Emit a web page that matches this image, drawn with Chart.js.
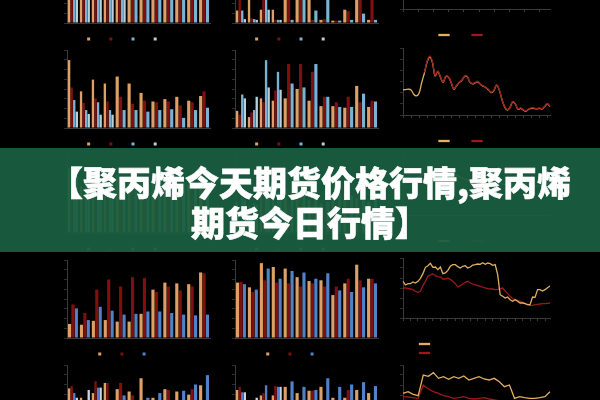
<!DOCTYPE html>
<html>
<head>
<meta charset="utf-8">
<script src="https://cdn.jsdelivr.net/npm/chart.js@4.4.1/dist/chart.umd.min.js"></script>
<style>
  html, body { margin: 0; padding: 0; background: #000; }
  #wrap { position: relative; width: 600px; height: 400px; overflow: hidden; background: #000; }
  #wrap canvas { position: absolute; }
  #banner {
    position: absolute; left: 0; top: 148px; width: 600px; height: 104px; z-index: 5;
    background: rgba(26, 94, 64, 0.94);
  }
  #banner h1 {
    margin: 0; padding: 14px 0 0 20px; color: #fff; text-align: center;
    font: 900 34px/40px "Noto Sans CJK SC", "Noto Sans", sans-serif;
    -webkit-text-stroke: 0.6px #fff;
  }
</style>
</head>
<body>
<div id="wrap">
  <div id="banner"><h1>【聚丙烯今天期货价格行情,聚丙烯<br>期货今日行情】</h1></div>
</div>
<script>
// Categorías (12 grupos por gráfico de barras)
const months = ['1月', '2月', '3月', '4月', '5月', '6月', '7月', '8月', '9月', '10月', '11月', '12月']
const seriesNames = ['系列1', '系列2', '系列3', '系列4']
const lineNames = ['系列1', '系列2']

// Fila superior (cortada)
const topAOrange = [82, 78, 86, 74, 88, 80, 76, 84, 79, 87, 75, 83]
const topARed = [70, 74, 68, 77, 72, 69, 75, 71, 73, 68, 76, 70]
const topABlue = [66, 72, 64, 70, 67, 71, 65, 69, 68, 72, 66, 70]
const topAGrey = [74, 70, 76, 68, 72, null, null, null, null, null, null, null]
const topBOrange = [16, 75, 17, 17, 75, 75, 75, 4, 3, 17, 75, 4]
const topBRed = [70, 6, 70, 4, 75, 75, 4, 5, 3, 15, 75, 75]
const topBBlue = [16, 5, 70, 4, 4, 75, 16, 75, 3, 4, 12, 4]
const topBGrey = [5, 4, 17, 4, null, null, null, null, null, null, null, null]
const topCOrange = [120, 125, 118, 130, 140, 135, 128, 132, 138, 145, 150, 142, 136, 130, 128, 134, 140, 138, 132, 126, 120, 124, 130, 128, 122, 118, 115, 120, 125, 122]
const topCRed = [110, 112, 115, 118, 125, 130, 126, 122, 128, 132, 136, 130, 125, 120, 118, 122, 126, 124, 120, 115, 110, 112, 116, 114, 110, 106, 104, 108, 112, 110]

// Fila 1
const r1AOrange = [87, 47, 62, 57, 66, 57, 45, 34, 37, 40, 35, 41]
const r1ARed = [52, 32, 38, 34, 40, 31, 35, 33, 34, 29, 33, 47]
const r1ABlue = [36, 23, 33, 23, 23, 23, 21, 23, 24, 13, 23, 26]
const r1AGrey = [21, 18, 17, 17, null, null, null, null, null, null, null, null]
const r1BOrange = [22, 14, 38, 35, 38, 50, 35, 28, 28, 26, 54, 27]
const r1BRed = [17, 20, 33, 48, 82, 82, 72, 40, 33, 40, 33, 35]
const r1BBlue = [43, 23, 87, 72, 57, 52, 82, 40, 27, 27, 44, 34]
const r1BGrey = [38, 40, 52, 49, null, null, null, null, null, null, null, null]
const r1COrange = [75, 76, 77, 75, 62, 57, 65, 97, 125, 157, 173, 157, 117, 130, 113, 97, 115, 113, 97, 77, 87, 97, 103, 115, 115, 98, 93, 96, 99, 91, 86, 82, 75, 67, 73, 89, 75, 47, 25, 15, 22, 39, 33, 17, 20, 15, 11, 17, 20, 20, 18, 20, 18, 25, 33, 25]
const r1CRed = [null, null, null, null, null, null, null, null, 127, 160, 176, 160, 119, 131, 114, 98, 116, 114, 98, 78, 88, 98, 104, 116, 116, 99, 94, 97, 100, 92, 87, 83, 76, 68, 74, 90, 76, 48, 26, 16, 23, 40, 34, 18, 21, 16, 12, 18, 21, 21, 19, 21, 19, 26, 34, 26]

// Fila oculta bajo el banner
const midAOrange = [83, 60, 72, 68, 75, 70, 66, 72, 64, 70, 62, 74]
const midARed = [65, 50, 58, 55, 60, 56, 52, 58, 50, 55, 48, 60]
const midABlue = [70, 62, 66, 60, 64, 68, 62, 66, 60, 64, 58, 66]
const midAGrey = [72, 66, 70, 64, null, null, null, null, null, null, null, null]
const midBOrange = [40, 35, 55, 50, 45, 60, 42, 38, 48, 52, 44, 40]
const midBRed = [30, 28, 45, 40, 38, 50, 36, 32, 40, 42, 36, 34]
const midBBlue = [45, 38, 60, 52, 50, 55, 46, 40, 50, 48, 42, 44]
const midBGrey = [42, 36, 50, 48, null, null, null, null, null, null, null, null]
const midCOrange = [90, 95, 100, 110, 120, 115, 108, 112, 118, 125, 120, 112, 105, 100, 96, 92, 98, 104, 100, 94, 88, 85, 90, 95, 92, 88, 84, 86, 90, 94]
const midCRed = [80, 82, 86, 92, 100, 98, 95, 96, 100, 104, 100, 96, 90, 86, 82, 80, 84, 88, 86, 82, 78, 76, 80, 84, 82, 78, 75, 77, 80, 83]

// Fila 2
const r2AOrange = [18, 17, 22, 23, 21, 21, 31, 62, 71, 70, 69, 84]
const r2ARed = [43, 32, 62, 75, 66, 78, 77, 59, 66, 61, 66, 83]
const r2ABlue = [38, 23, 40, 35, 30, 31, 34, 34, 32, 30, 29, 30]
const r2BOrange = [71, 65, 96, 91, 89, 78, 73, 74, 55, 70, 94, 76]
const r2BRed = [72, 59, 74, 71, 70, 66, 70, 66, 66, 76, 74, 76]
const r2BBlue = [69, 62, 89, 76, 86, 84, 76, 83, 61, 59, 65, 70]
const r2COrange = [110, 99, 103, 103, 108, 105, 110, 119, 133, 152, 157, 164, 152, 153, 145, 153, 133, 135, 143, 155, 160, 160, 154, 150, 155, 157, 150, 153, 159, 160, 162, 161, 166, 161, 165, 163, 158, 160, 130, 70, 65, 60, 63, 55, 50, 55, 50, 45, 45, 43, 40, 40, 63, 62, 85, 85, 81, 85, 91, 96]
const r2CRed = [90, 90, 89, 87, 85, 80, 77, 80, 97, 110, 125, 129, 133, 127, 124, 123, 117, 117, 120, 116, 110, 103, 93, 97, 102, 107, 110, 105, 102, 99, 97, 95, 93, 90, 88, 87, 87, 85, 86, 88, 90, 81, 73, 65, 58, 55, 53, 50, 47, 44, 40, 37, 38, 40, 41, 42, 43, 43, 44, 45]

// Fila inferior (cortada)
const botAOrange = [70, 58, 64, 77, 69, 66, 83, 58, 69, 66, 62, 74]
const botARed = [73, 40, 79, 77, 77, 61, 40, 40, 68, 45, 69, 45]
const botABlue = [64, 45, 71, 40, 61, 40, 58, 64, 45, 67, 75, 87]
const botAGrey = [58, 68, 71, 40, null, null, null, null, null, null, null, null]
const botBOrange = [68, 40, 61, 61, 72, 64, 67, 72, 58, 58, 68, 64]
const botBRed = [72, 45, 64, 73, 50, 50, 67, 50, 50, 68, 50, 50]
const botBBlue = [65, 40, 74, 72, 79, 72, 68, 83, 72, 75, 78, 73]
const botBGrey = [65, 58, 50, 72, null, null, null, null, null, null, null, null]
const botCOrange = [95, 100, 92, 88, 150, 146, 157, 140, 145, 137, 145, 140, 147, 135, 140, 145, 138, 135, 140, 130, 115, 120, 80, 85, 82, 80, 80, 82, 85, 100]
const botCRed = [85, 84, 82, 80, 120, 108, 100, 95, 88, 85, 80, 82, 85, 80, 78, 80, 82, 78, 75, 72, 70, 68, 65, 62, 60, 62, 60, 58, 58, 60]

// Colores
const skyColors = ['#dea064', '#820f0f', '#78b4d2', '#b8cfdc']
const deepColors = ['#dea064', '#820f0f', '#4f82c6', '#c8d4de']
const lineOrange = '#e1af5f'
const lineRed = '#9a1a1a'
const axisColor = '#3a3a3a'

Chart.defaults.animation = false
Chart.defaults.events = []
Chart.defaults.font.family = 'DejaVu Sans'
Chart.defaults.plugins.tooltip.enabled = false

const wrap = document.getElementById('wrap')
const defaultLabels = Chart.defaults.plugins.legend.labels.generateLabels

const addCanvas = (left, top, w, h) => {
  const canvas = document.createElement('canvas')
  canvas.width = w
  canvas.height = h
  canvas.style.left = left + 'px'
  canvas.style.top = top + 'px'
  wrap.appendChild(canvas)
  return canvas
}

// Gráfico de barras: área de datos de 143 x 78
const makeBar = (plotLeft, plotTop, values, colors) => {
  const canvas = addCanvas(plotLeft - 25, plotTop, 170, 109)
  const datasets = values.map((v, i) => ({
    label: seriesNames[i],
    data: v,
    backgroundColor: colors[i],
    borderWidth: 0,
    skipNull: true,
    categoryPercentage: 0.86,
    barPercentage: 0.92
  }))
  new Chart(canvas, {
    type: 'bar',
    data: { labels: months, datasets: datasets },
    options: {
      responsive: false,
      layout: { padding: { right: 2 } },
      plugins: {
        legend: {
          position: 'bottom',
          labels: {
            boxWidth: 3, boxHeight: 3, padding: 11, font: { size: 10 }, color: 'rgba(0,0,0,0)',
            generateLabels: chart => defaultLabels(chart).map(l => ({ ...l, text: ' ' }))
          }
        }
      },
      scales: {
        x: {
          ticks: { display: false },
          grid: { display: false, drawTicks: false },
          border: { color: axisColor }
        },
        y: {
          min: 0, max: 100,
          ticks: { display: false, stepSize: 12.5 },
          grid: { drawOnChartArea: false, tickLength: 3, color: '#2e2e2e' },
          border: { color: axisColor },
          afterFit: s => { s.width = 25 }
        }
      }
    }
  })
}

// Gráfico de líneas: área de datos de 147 de ancho
const makeLine = (plotTop, plotH, orange, red, opts) => {
  const stacked = opts.stacked
  const xh = stacked ? 21 : 3
  const legendH = stacked ? 28 : 38
  const canvas = addCanvas(376, plotTop, 176, plotH + xh + legendH)
  const labels = orange.map((_, i) => String(i + 1))
  const legendText = stacked ? '\u2003'.repeat(12) + '\u2002' : ''
  new Chart(canvas, {
    type: 'line',
    data: {
      labels: labels,
      datasets: [
        { label: lineNames[0], data: orange, borderColor: lineOrange, backgroundColor: lineOrange,
          borderWidth: 1.3, pointRadius: 0, tension: opts.tension, order: opts.redOnTop ? 1 : 0 },
        { label: lineNames[1], data: red, borderColor: lineRed, backgroundColor: lineRed,
          borderWidth: 1.3, pointRadius: 0, tension: opts.tension, order: opts.redOnTop ? 0 : 1 }
      ]
    },
    options: {
      responsive: false,
      layout: { padding: { right: 2 } },
      plugins: {
        legend: {
          position: 'bottom',
          fullSize: !stacked,
          labels: {
            boxWidth: 10, boxHeight: 1,
            padding: stacked ? 1 : 18,
            font: { size: stacked ? 8 : 10 },
            color: 'rgba(0,0,0,0)',
            sort: (a, b) => a.datasetIndex - b.datasetIndex,
            generateLabels: chart => defaultLabels(chart).map(l => ({ ...l, text: legendText }))
          }
        }
      },
      scales: {
        x: {
          ticks: { display: false },
          grid: { drawOnChartArea: false, tickLength: 3, color: c => (c.index % 3 === 0 ? '#3a3a3a' : 'rgba(0,0,0,0)') },
          border: { color: axisColor },
          afterFit: s => { s.height = xh }
        },
        y: {
          min: 0, max: opts.max,
          ticks: { display: false, stepSize: opts.max / 6 },
          grid: { drawOnChartArea: false, tickLength: 3, color: '#2e2e2e' },
          border: { color: axisColor },
          afterFit: s => { s.width = 27 }
        }
      }
    }
  })
}

// Fila superior
makeBar(67, -55, [topAOrange, topARed, topABlue, topAGrey], skyColors)
makeBar(235, -55, [topBOrange, topBRed, topBBlue, topBGrey], skyColors)
makeLine(-55, 64, topCOrange, topCRed, { tension: 0.3, max: 180 })

// Fila 1
makeBar(67, 50, [r1AOrange, r1ARed, r1ABlue, r1AGrey], skyColors)
makeBar(235, 50, [r1BOrange, r1BRed, r1BBlue, r1BGrey], skyColors)
makeLine(48, 67, r1COrange, r1CRed, { tension: 0.4, max: 200, redOnTop: true })

// Fila bajo el banner
makeBar(67, 155, [midAOrange, midARed, midABlue, midAGrey], skyColors)
makeBar(235, 155, [midBOrange, midBRed, midBBlue, midBGrey], skyColors)
makeLine(153, 62, midCOrange, midCRed, { tension: 0, max: 180 })

// Fila 2
makeBar(67, 260, [r2AOrange, r2ARed, r2ABlue], deepColors)
makeBar(235, 260, [r2BOrange, r2BRed, r2BBlue], deepColors)
makeLine(258, 60, r2COrange, r2CRed, { tension: 0, max: 180, stacked: true })

// Fila inferior
makeBar(67, 365, [botAOrange, botARed, botABlue, botAGrey], deepColors)
makeBar(235, 365, [botBOrange, botBRed, botBBlue, botBGrey], deepColors)
makeLine(365, 60, botCOrange, botCRed, { tension: 0, max: 180 })
</script>
</body>
</html>
